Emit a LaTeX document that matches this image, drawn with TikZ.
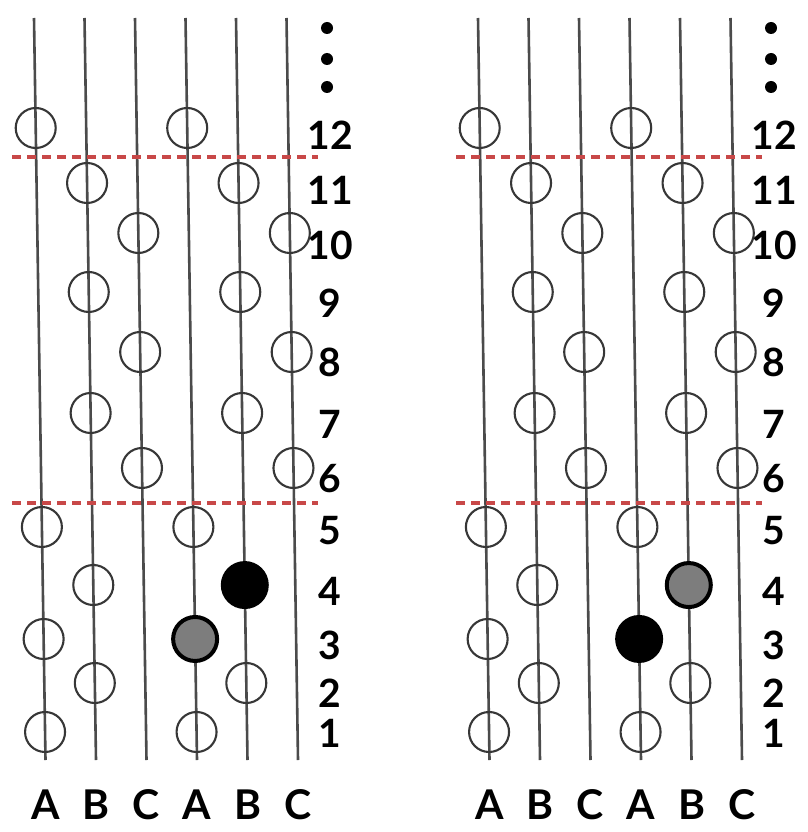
\documentclass[tikz,border=0pt]{standalone}
\usepackage{fontspec}
\setmainfont{Lato}
\usetikzlibrary{calc}
\definecolor{wire}{RGB}{75,75,75}
\definecolor{ring}{RGB}{55,55,55}
\definecolor{sep}{RGB}{200,72,72}
\definecolor{midgray}{RGB}{125,125,125}
\tikzset{
  wireline/.style={draw=wire,line width=2.6pt},
  sepline/.style={draw=sep,line width=3.5pt,dash pattern=on 9pt off 6pt},
  openring/.style={circle,draw=ring,line width=2.1pt,minimum size=40pt,inner sep=0pt},
  blackdot/.style={circle,fill=black,minimum size=48pt,inner sep=0pt},
  graydot/.style={circle,fill=midgray,draw=black,line width=4pt,minimum size=44pt,inner sep=0pt},
  vdot/.style={circle,fill=black,minimum size=12pt,inner sep=0pt},
  numlabel/.style={font=\fontsize{39}{39}\selectfont\bfseries,inner sep=0pt},
  collabel/.style={font=\fontsize{41}{41}\selectfont\bfseries,inner sep=0pt},
}
\begin{document}
\begin{tikzpicture}[x=1pt,y=-1pt]
\useasboundingbox (0,0) rectangle (807,832);
\fill[white] (0,0) rectangle (807,832);
\foreach \p/\sx in {L/0,R/444}{
  \begin{scope}[xshift=\sx pt]
    % wires
    \foreach \i in {0,...,5}{
      \pgfmathsetmacro\xt{34+50.5*\i}
      \pgfmathsetmacro\xb{45.5+50.5*\i}
      \coordinate (\p-t\i) at (\xt,18);
      \coordinate (\p-b\i) at (\xb,760);
      \draw[wireline] (\p-t\i) -- (\p-b\i);
    }
    % separators
    \coordinate (\p-s1a) at (12,157);
    \coordinate (\p-s1b) at (318,157);
    \coordinate (\p-s2a) at (12,503);
    \coordinate (\p-s2b) at (318,503);
    \draw[sepline] (\p-s1a) -- (\p-s1b);
    \draw[sepline] (\p-s2a) -- (\p-s2b);
    % open rings
    \foreach \r/\c/\y in {12/0/128,12/3/128,11/1/183,11/4/183,10/2/233,10/5/233,
        9/1/292,9/4/292,8/2/352,8/5/352,7/1/413,7/4/413,6/2/468,6/5/468,
        5/0/527,5/3/527,4/1/585,3/0/639,2/1/683,2/4/683,1/0/732,1/3/732}{
      \pgfmathsetmacro\f{(\y-18)/742}
      \node[openring] (\p-c\r-\c) at ($(\p-t\c)!\f!(\p-b\c)$) {};
    }
    % row numbers
    \foreach \n/\y in {12/135,11/190,10/245,9/303,8/362,7/424,6/479,5/531,4/591,3/645,2/693,1/733}{
      \node[numlabel] (\p-n\n) at (330,\y) {\n};
    }
    % vertical ellipsis
    \node[vdot] (\p-e1) at (327,28) {};
    \node[vdot] (\p-e2) at (327,59) {};
    \node[vdot] (\p-e3) at (327,87) {};
    % column letters
    \foreach \i/\t in {0/A,1/B,2/C,3/A,4/B,5/C}{
      \node[collabel] (\p-l\i) at ($(\p-b\i)+(0,45)$) {\t};
    }
  \end{scope}
}
% filled markers
\node[blackdot] (L-c4-4) at ($(L-t4)!0.7642!(L-b4)$) {};
\node[graydot]  (L-c3-3) at ($(L-t3)!0.8369!(L-b3)$) {};
\node[graydot]  (R-c4-4) at ($(R-t4)!0.7642!(R-b4)$) {};
\node[blackdot] (R-c3-3) at ($(R-t3)!0.8369!(R-b3)$) {};
\end{tikzpicture}
\end{document}
